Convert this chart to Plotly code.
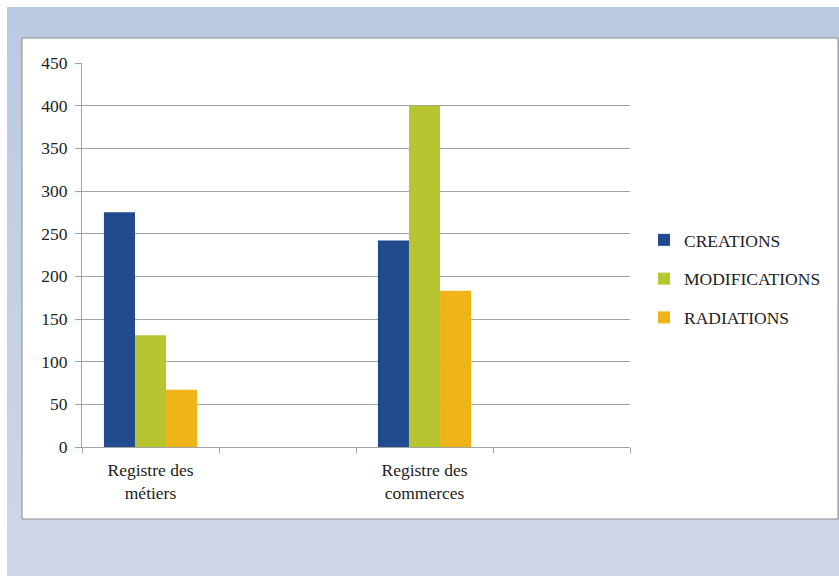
import base64
import plotly.graph_objects as go

categories = ["Registre des<br>métiers", " ", "Registre des<br>commerces", "  "]
bar_categories = ["Registre des<br>métiers", "Registre des<br>commerces"]
series_names = ["CREATIONS", "MODIFICATIONS", "RADIATIONS"]
creations = [275, 242]
modifications = [131, 400]
radiations = [67, 183]
series_values = [creations, modifications, radiations]
series_colors = ["#214b8e", "#b6c530", "#eeb419"]
y_ticks = [0, 50, 100, 150, 200, 250, 300, 350, 400, 450]

W, H = 839, 576
PL, PR, PT, PB = 82, 630, 63, 447  # plot area in pixels


def px_x(p):
    return (p - PL) / (PR - PL)


def px_y(p):
    return (PB - p) / (PB - PT)


FONT = "Liberation Serif"
FS = 17.5
TXT = "#222222"
GRID = "#a3a3a3"

fig = go.Figure()
for i, (name, vals, col) in enumerate(zip(series_names, series_values, series_colors)):
    fig.add_trace(go.Bar(
        x=bar_categories, y=vals, name=name, marker_color=col,
        marker_line_width=0, legendgroup=f"g{i}",
    ))

svg = ('<svg xmlns="http://www.w3.org/2000/svg" width="100" height="100" '
       'preserveAspectRatio="none"><defs><linearGradient id="g" x1="0" y1="0" x2="0" y2="1">'
       '<stop offset="0" stop-color="#bacae1"/><stop offset="1" stop-color="#d0d6e7"/>'
       '</linearGradient></defs><rect width="100" height="100" fill="url(#g)"/></svg>')
src = "data:image/svg+xml;base64," + base64.b64encode(svg.encode()).decode()

bx0, bx1, by0, by1 = 7, 839, 7, 576
fig.add_layout_image(
    source=src, xref="paper", yref="paper",
    x=px_x(bx0), y=px_y(by0), sizex=px_x(bx1) - px_x(bx0), sizey=px_y(by0) - px_y(by1),
    xanchor="left", yanchor="top", sizing="stretch", layer="below",
)

# white chart frame
fig.add_shape(type="rect", xref="paper", yref="paper",
              x0=px_x(22), x1=px_x(838), y0=px_y(519), y1=px_y(38),
              fillcolor="white", line=dict(color="#8c8c8c", width=1), layer="below")

fig.update_layout(
    width=W, height=H,
    margin=dict(l=PL, r=W - PR, t=PT, b=H - PB),
    paper_bgcolor="white", plot_bgcolor="rgba(0,0,0,0)",
    font=dict(family=FONT, size=FS, color=TXT),
    barmode="group", bargap=0.32, bargroupgap=0,
    showlegend=True,
    legend=dict(
        x=px_x(644), xanchor="left", y=px_y(279), yanchor="middle",
        traceorder="grouped", tracegroupgap=13,
        font=dict(family=FONT, size=FS, color=TXT),
        bgcolor="rgba(0,0,0,0)",
    ),
)
fig.update_xaxes(
    type="category", categoryorder="array", categoryarray=categories,
    tickson="boundaries", ticks="outside", ticklen=5, tickcolor=GRID,
    showline=True, linecolor=GRID, linewidth=1, showgrid=False,
    range=[-0.5, 3.5], fixedrange=True, ticklabelstandoff=7,
)
fig.update_yaxes(
    range=[0, 450], tickvals=y_ticks, ticks="outside", ticklen=6, tickcolor=GRID,
    showline=True, linecolor=GRID, linewidth=1, ticklabelstandoff=4,
    showgrid=True, gridcolor=GRID, gridwidth=1, zeroline=False,
)

fig.write_html("out.html")
